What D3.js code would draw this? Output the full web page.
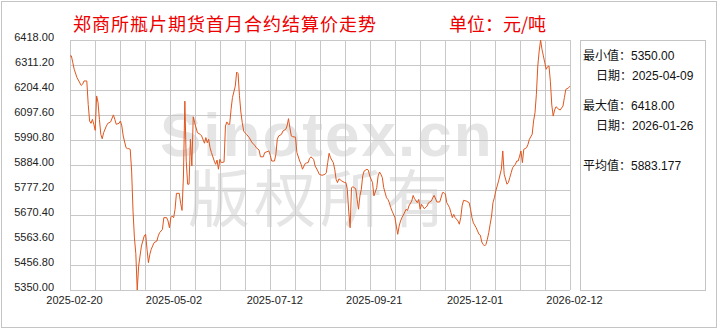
<!DOCTYPE html>
<meta charset="utf-8">
<style>
    body{ margin:0; background:#fff; }
    svg text{ font-family:"Liberation Sans", Arial, sans-serif; }
    .cjk{ font-family:"Noto Sans CJK SC", sans-serif; }
</style>
<div class="chart"></div>
<script src="https://d3js.org/d3.v7.min.js"></script>
<script>

var title = "郑商所瓶片期货首月合约结算价走势";
var unit = "单位：元/吨";

// position along the axis (days since 2025-02-20) and settlement price
var pos = [0,1,2,3,5,8,9,10,12,13,14,15,16,17,18,19,20,21,22,23,24,26,27,29,31,32,33,35,36,37,38,40,41,42,43,44,45,46,47,48,49,50,51,53,54,55,56,57,58,60,62,63,64,66,67,69,70,71,72,73,74,75,76,78,79,80,81,82,83,84,85,86,87,88,89,91,93,94,96,97,98,99,100,101,103,104,105,106,107,108,110,111,112,113,114,115,116,118,119,120,121,122,123,124,126,128,130,132,133,135,136,138,139,142,143,144,146,147,148,149,151,152,154,155,156,157,158,159,161,162,164,165,166,168,169,170,171,172,174,175,177,178,180,182,183,184,185,186,188,189,190,191,192,194,196,197,198,199,200,201,202,204,205,206,207,208,209,210,212,213,214,216,217,219,220,221,222,223,224,226,227,228,229,230,232,233,234,235,236,237,238,240,241,242,244,245,246,248,249,250,251,253,255,256,258,259,260,262,264,266,267,268,269,271,272,273,274,275,277,278,279,280,281,283,285,286,287,288,290,291,292,293,294,295,296,297,298,299,300,301,302,303,304,305,306,308,309,310,312,313,314,315,316,318,319,320,321,322,323,324,326,327,328,330,331,332,333,334,335,336,337,338,339,340,341,342,343,344,345,346,347,349,350,352,353,354,356,357];
var price = [6350,6350,6321,6293,6257,6224,6229,6243,6243,6143,6072,6062,6079,6058,6032,6179,6152,6079,6015,5996,6022,6051,6062,6068,6098,6079,6058,6062,6072,6051,6008,5958,5954,5954,5951,5858,5687,5573,5505,5350,5452,5495,5538,5581,5588,5524,5467,5502,5524,5552,5559,5581,5595,5609,5659,5659,5645,5616,5659,5666,5659,5695,5763,5763,5720,5690,5837,6157,5900,5802,5802,5994,5880,6090,6065,6022,6015,6008,5977,6001,5979,5994,5958,5937,5901,5887,5905,5866,5908,5894,5897,6051,6068,6058,6058,6122,6172,6221,6281,6275,6180,6110,6065,6029,6015,6001,5979,5968,5958,5948,5919,5919,5937,5944,5925,5901,5901,5930,5994,6008,6015,6029,6036,6051,6082,6043,6008,6005,6003,5937,5901,5887,5866,5891,5893,5894,5911,5919,5908,5880,5858,5844,5840,5844,5851,5894,5934,5915,5894,5866,5823,5809,5825,5816,5809,5809,5780,5687,5616,5787,5791,5783,5737,5695,5752,5780,5837,5858,5866,5862,5837,5809,5752,5787,5837,5854,5844,5830,5787,5744,5737,5723,5702,5687,5659,5623,5588,5623,5645,5659,5670,5695,5690,5709,5730,5754,5740,5723,5737,5695,5716,5697,5709,5723,5730,5744,5754,5726,5726,5766,5766,5760,5723,5702,5680,5659,5673,5659,5645,5631,5660,5710,5733,5730,5723,5695,5659,5637,5616,5602,5588,5584,5555,5545,5538,5545,5567,5595,5631,5666,5723,5744,5773,5794,5816,5866,5944,5845,5802,5809,5830,5851,5872,5887,5901,5901,5922,5944,5894,5951,5958,5972,5994,6015,6072,6107,6186,6307,6371,6418,6378,6350,6321,6293,6304,6307,6240,6140,6093,6119,6133,6122,6119,6136,6172,6207,6214,6221];

var xTickPos = [0, 71, 143, 214, 286, 357];
var xTickLabels = ["2025-02-20", "2025-05-02", "2025-07-12", "2025-09-21", "2025-12-01", "2026-02-12"];
var yTicks = [5350.00, 5456.80, 5563.60, 5670.40, 5777.20, 5884.00, 5990.80, 6097.60, 6204.40, 6311.20, 6418.00];

var statLabels = ["最小值：", "日期：", "最大值：", "日期：", "平均值："];
var statValues = ["5350.00", "2025-04-09", "6418.00", "2026-01-26", "5883.177"];

var svg = d3.select(".chart").append("svg").attr("width", 720).attr("height", 330),
    margin = {top: 40, left: 70},
    width = 500,
    height = 250;

// outer frame
svg.append("rect")
    .attr("x", 1.5).attr("y", 1.5)
    .attr("width", 715).attr("height", 326)
    .attr("fill", "#fff")
    .attr("stroke", "#c4c4c4");

var x = d3.scaleLinear().domain([0, 357]).range([0, width]);
var y = d3.scaleLinear().domain([5350, 6418]).range([height, 0]);

// watermark
var wm = svg.append("g").attr("fill", "#e5e5e5");
wm.append("text")
    .attr("x", 160).attr("y", 156)
    .attr("font-size", 62)
    .attr("font-weight", "bold")
    .attr("letter-spacing", 2)
    .style("font-family", "'Liberation Sans', Arial, sans-serif")
    .text("Sinotex.cn");
wm.append("text")
    .attr("class", "cjk")
    .attr("x", 188).attr("y", 222)
    .attr("font-size", 62)
    .attr("letter-spacing", 4)
    .text("版权所有");

var g = svg.append("g").attr("transform", "translate(" + margin.left + "," + margin.top + ")");

// grid
var vlines = d3.range(0, 21).map(function(i) { return i * 357 / 20; });
g.append("g").selectAll("line")
    .data(vlines)
  .enter().append("line")
    .attr("x1", function(d) { return Math.round(x(d)) + 0.5; })
    .attr("x2", function(d) { return Math.round(x(d)) + 0.5; })
    .attr("y1", 0).attr("y2", height)
    .attr("stroke", "#c8c8c8");
g.append("g").selectAll("line")
    .data(yTicks)
  .enter().append("line")
    .attr("x1", 0).attr("x2", width)
    .attr("y1", function(d) { return Math.round(y(d)) + 0.5; })
    .attr("y2", function(d) { return Math.round(y(d)) + 0.5; })
    .attr("stroke", "#c8c8c8");

// axes (labels only)
var yAxis = g.append("g")
    .call(d3.axisLeft(y).tickValues(yTicks).tickSize(0).tickPadding(16)
        .tickFormat(function(d) { return d.toFixed(2); }));
yAxis.select(".domain").remove();
yAxis.selectAll("text")
    .attr("dy", "0")
    .attr("font-size", 11)
    .attr("fill", "#222")
    .style("font-family", "'Liberation Sans', Arial, sans-serif");

var xAxis = g.append("g")
    .attr("transform", "translate(0," + height + ")")
    .call(d3.axisBottom(x).tickValues(xTickPos).tickSize(0).tickPadding(4)
        .tickFormat(function(d, i) { return xTickLabels[i]; }));
xAxis.select(".domain").remove();
xAxis.selectAll("text")
    .attr("dx", 4)
    .attr("dy", "0.9em")
    .attr("font-size", 11)
    .attr("fill", "#222")
    .style("font-family", "'Liberation Sans', Arial, sans-serif");

// price line
var line = d3.line()
    .x(function(d, i) { return x(pos[i]); })
    .y(function(d) { return y(d); });

g.append("path")
    .datum(price)
    .attr("fill", "none")
    .attr("stroke", "#e0561e")
    .attr("stroke-width", 1)
    .attr("stroke-linejoin", "round")
    .attr("d", line);

// title
svg.append("text")
    .attr("class", "cjk")
    .attr("x", 73).attr("y", 31)
    .attr("font-size", 18)
    .attr("letter-spacing", 1)
    .attr("fill", "#ee0000")
    .text(title);
svg.append("text")
    .attr("class", "cjk")
    .attr("x", 449).attr("y", 31)
    .attr("font-size", 18)
    .attr("fill", "#ee0000")
    .text(unit);

// stats box
svg.append("rect")
    .attr("x", 580.5).attr("y", 40.5)
    .attr("width", 125).attr("height", 250)
    .attr("fill", "#fff")
    .attr("stroke", "#c4c4c4");

var statY = [60, 80, 110, 130, 170];
var statX = [583, 596, 583, 596, 583];
var stats = svg.append("g").attr("font-size", 12).attr("fill", "#111");
statLabels.forEach(function(lab, i) {
    var t = stats.append("text")
        .attr("x", statX[i]).attr("y", statY[i]);
    t.append("tspan").attr("class", "cjk").text(lab);
    t.append("tspan").text(statValues[i]);
});

</script>
